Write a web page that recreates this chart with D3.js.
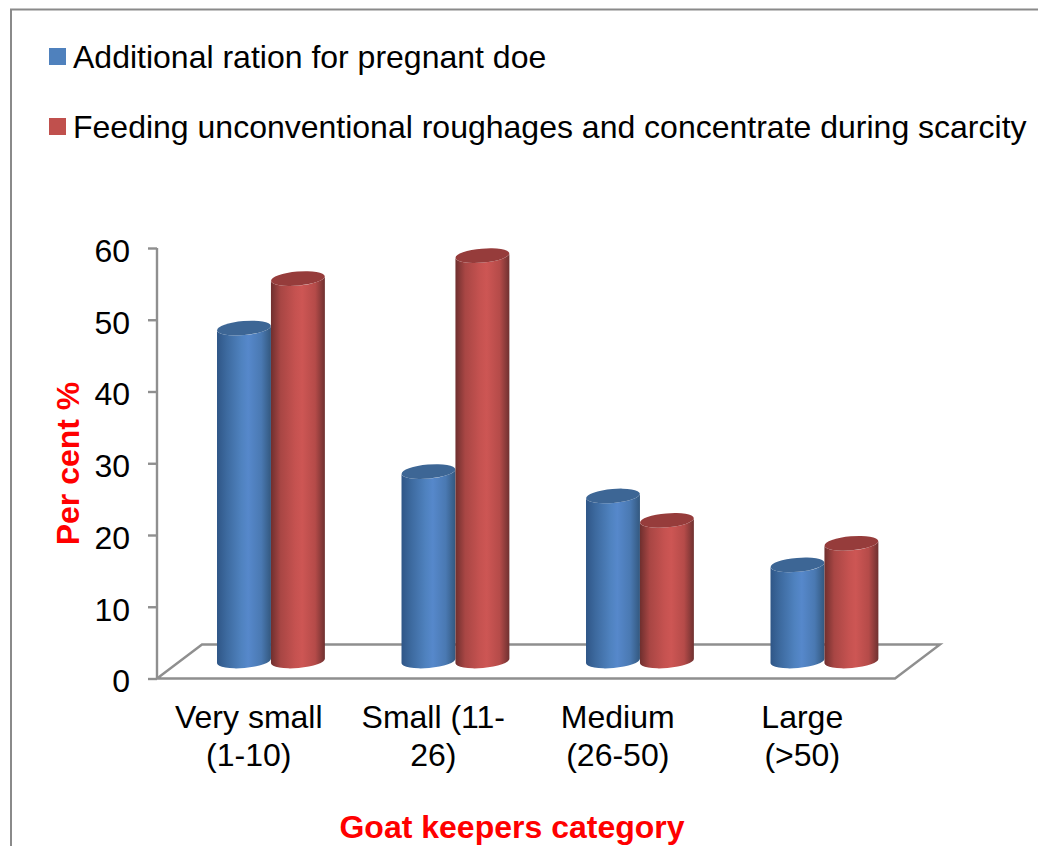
<!DOCTYPE html>
<html><head><meta charset="utf-8">
<script src="https://cdn.jsdelivr.net/npm/d3@7"></script>
<style>html,body{margin:0;padding:0;background:#fff}svg{display:block}text{font-family:"Liberation Sans",Arial,sans-serif}</style>
</head><body><div id="chart"></div>
<script>
const categories = [["Very small","(1-10)"],["Small (11-","26)"],["Medium","(26-50)"],["Large","(>50)"]];
const seriesNames = ["Additional ration for pregnant doe","Feeding unconventional roughages and concentrate during scarcity"];
const rationValues = [46.4,26.4,23,13.4];
const feedingValues = [53.3,56.5,19.6,16.4];
const yTicks = [0,10,20,30,40,50,60];
const seriesValues = [rationValues,feedingValues];
const W=1038,H=846;
const svg=d3.select("#chart").append("svg").attr("width",W).attr("height",H);
const axisGray="#8f8f8f";
const y=d3.scaleLinear().domain([0,60]).range([678.5,248]);
const x0=d3.scaleBand().domain(d3.range(4)).range([157,895]);
const x1=d3.scaleBand().domain([0,1]).range([x0.bandwidth()*0.2033,x0.bandwidth()*0.788]);
const depth={x:45,y:-34};
const barShift={x:22.5,y:-17.5};
const palette=[
 {id:"g0",stops:["#2f5687","#3d6a9f","#4f82bf","#5688cb","#4a79b2","#33587f"],top:"#3d6695",key:"#4f81bd"},
 {id:"g1",stops:["#6f2f2e","#a84644","#c55250","#cd5654","#b54b49","#6f3130"],top:"#963c3b",key:"#c0504d"}];
const defs=svg.append("defs");
palette.forEach(p=>{
 const g=defs.append("linearGradient").attr("id",p.id);
 [0,.18,.45,.58,.82,1].forEach((o,i)=>g.append("stop").attr("offset",o).attr("stop-color",p.stops[i]));
});
// frame
svg.append("path").attr("d",`M11 ${H}V9.5H${W}`).attr("fill","none").attr("stroke","#8a8a8a").attr("stroke-width",2);
// floor
const f0=x0.range()[0],f1=x0.range()[1],fy=y(0);
svg.append("path").attr("d",`M${f0} ${fy}L${f0+depth.x} ${fy+depth.y}H${f1+depth.x}L${f1} ${fy}Z`)
 .attr("fill","none").attr("stroke",axisGray).attr("stroke-width",2.4);
// y axis
const ax=svg.append("g").attr("transform",`translate(${f0},0)`).call(d3.axisLeft(y).tickValues(yTicks).tickSize(9).tickPadding(18));
ax.selectAll("path,line").attr("stroke",axisGray).attr("stroke-width",2.4);
ax.selectAll("text").attr("font-size",32).attr("fill","#000").attr("dy","0.42em");
ax.select(".domain").attr("d",`M0 ${y(60)}V${y(0)}`);
// bars
const ry=7, rot=-5;
const tilt=Math.tan(rot*Math.PI/180);
seriesValues.forEach((vals,s)=>{
 const g=svg.append("g");
 const w=x1.bandwidth();
 vals.forEach((v,i)=>{
  const cx=x0(i)+x1(s)+x1.bandwidth()/2+barShift.x;
  const top=y(v)+barShift.y, base=y(0)+barShift.y;
  const a=w/2, d=-a*tilt;
  const L=cx-a,R=cx+a;
  g.append("path").attr("fill",`url(#${palette[s].id})`)
   .attr("d",`M${L} ${top+d}L${L} ${base+d}A${a} ${ry} ${rot} 0 0 ${R} ${base-d}L${R} ${top-d}A${a} ${ry} ${rot} 0 1 ${L} ${top+d}Z`);
  g.append("ellipse").attr("cx",cx).attr("cy",top).attr("rx",a).attr("ry",ry)
   .attr("transform",`rotate(${rot} ${cx} ${top})`).attr("fill",palette[s].top);
 });
});
// category labels
categories.forEach((c,i)=>{
 c.forEach((t,j)=>svg.append("text").attr("x",x0(i)+x0.bandwidth()/2-.5).attr("y",728+j*38)
  .attr("text-anchor","middle").attr("font-size",32).attr("fill","#000").text(t));
});
// titles
svg.append("text").attr("x",512).attr("y",838).attr("text-anchor","middle").attr("font-size",32).attr("font-weight","bold").attr("fill","#ff0000").text("Goat keepers category");
svg.append("text").attr("transform","translate(78.5,463.5) rotate(-90)").attr("text-anchor","middle").attr("font-size",32).attr("font-weight","bold").attr("fill","#ff0000").text("Per cent %");
// legend
seriesNames.forEach((n,i)=>{
 const ly=48+i*70;
 svg.append("rect").attr("x",49).attr("y",ly).attr("width",17).attr("height",17).attr("fill",palette[i].key);
 svg.append("text").attr("x",73).attr("y",ly+19.5).attr("font-size",32).attr("fill","#000").text(n);
});
</script></body></html>
